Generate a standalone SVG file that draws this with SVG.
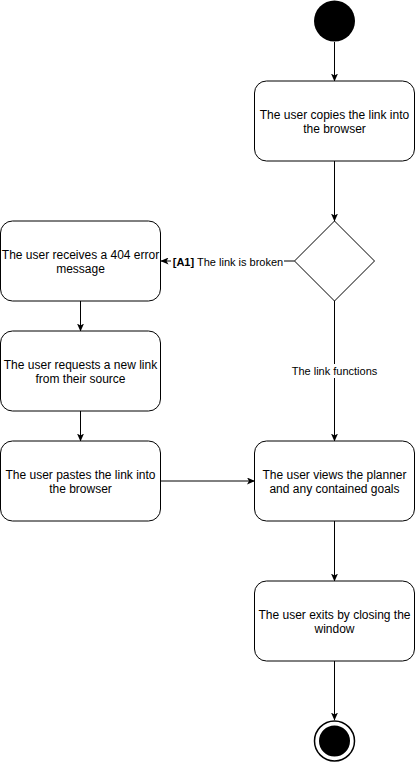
<svg xmlns="http://www.w3.org/2000/svg" width="415" height="762" viewBox="0 0 415 762">
<style>
.box{fill:#fff;stroke:#000;stroke-width:1}
.t{font-family:"Liberation Sans",Arial,sans-serif;font-size:12px;fill:#000;text-anchor:middle}
.l{font-family:"Liberation Sans",Arial,sans-serif;font-size:11px;fill:#000;text-anchor:middle}
.c{fill:none;stroke:#000;stroke-width:1;marker-end:url(#a)}
</style>
<defs>
<marker id="a" viewBox="0 0 8 7" markerWidth="8" markerHeight="7" refX="7.5" refY="3.5" orient="auto" markerUnits="userSpaceOnUse">
<path d="M0,0 L8,3.5 L0,7 L2,3.5 Z" fill="#000"/>
</marker>
</defs>
<g id="connectors">
<line class="c" x1="334.5" y1="42" x2="334.5" y2="81"/>
<line class="c" x1="334.5" y1="161" x2="334.5" y2="221"/>
<line class="c" x1="294.5" y1="261" x2="161" y2="261"/>
<line class="c" x1="334.5" y1="301" x2="334.5" y2="441"/>
<line class="c" x1="80.5" y1="301" x2="80.5" y2="331"/>
<line class="c" x1="80.5" y1="411" x2="80.5" y2="441"/>
<line class="c" x1="160.5" y1="481" x2="254.5" y2="481"/>
<line class="c" x1="334.5" y1="521" x2="334.5" y2="581"/>
<line class="c" x1="334.5" y1="661" x2="334.5" y2="720"/>
<rect x="171" y="254" width="113" height="15" fill="#fff"/>
<text class="l" x="228" y="265.5"><tspan font-weight="bold">[A1]</tspan> The link is broken</text>
<rect x="290" y="364" width="89" height="14" fill="#fff"/>
<text class="l" x="334.5" y="375">The link functions</text>
</g>
<g id="start"><circle cx="334.5" cy="21" r="20.5" fill="#000"/></g>
<g id="copy"><rect class="box" x="254.5" y="81" width="160" height="80" rx="12"/>
<text class="t" x="334.5" y="119">The user copies the link into</text><text class="t" x="334.5" y="133">the browser</text></g>
<g id="decision"><path class="box" d="M334.5,221 L374.5,261 L334.5,301 L294.5,261 Z"/></g>
<g id="error"><rect class="box" x="0.5" y="221" width="160" height="80" rx="12"/>
<text class="t" x="80.5" y="259">The user receives a 404 error</text><text class="t" x="80.5" y="273">message</text></g>
<g id="request"><rect class="box" x="0.5" y="331" width="160" height="80" rx="12"/>
<text class="t" x="80.5" y="369">The user requests a new link</text><text class="t" x="80.5" y="383">from their source</text></g>
<g id="paste"><rect class="box" x="0.5" y="441" width="160" height="80" rx="12"/>
<text class="t" x="80.5" y="479">The user pastes the link into</text><text class="t" x="80.5" y="493">the browser</text></g>
<g id="view"><rect class="box" x="254.5" y="441" width="160" height="80" rx="12"/>
<text class="t" x="334.5" y="479">The user views the planner</text><text class="t" x="334.5" y="493">and any contained goals</text></g>
<g id="exit"><rect class="box" x="254.5" y="581" width="160" height="80" rx="12"/>
<text class="t" x="334.5" y="619">The user exits by closing the</text><text class="t" x="334.5" y="633">window</text></g>
<g id="end"><circle cx="334.5" cy="741" r="20" fill="#fff" stroke="#000" stroke-width="1.5"/><circle cx="334.5" cy="741" r="15.5" fill="#000"/></g>
</svg>
